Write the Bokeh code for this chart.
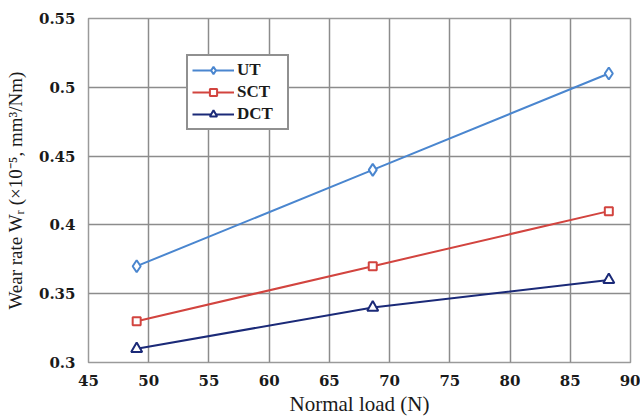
from bokeh.plotting import figure
from bokeh.models import FixedTicker, Legend, LegendItem, Range1d
from bokeh.embed import file_html
from bokeh.resources import INLINE

loads = [49.0, 68.6, 88.2]
ut = [0.37, 0.44, 0.51]
sct = [0.33, 0.37, 0.41]
dct = [0.31, 0.34, 0.36]

x_ticks = [45, 50, 55, 60, 65, 70, 75, 80, 85, 90]
y_ticks = [0.3, 0.35, 0.4, 0.45, 0.5, 0.55]
y_tick_labels = ["0.3", "0.35", "0.4", "0.45", "0.5", "0.55"]

FONT = "'Liberation Serif', 'Times New Roman', serif"
TICK_FONT = "DejaVu Serif"

p = figure(width=640, height=418, output_backend="svg", toolbar_location=None,
           x_range=Range1d(45, 90), y_range=Range1d(0.3, 0.55),
           min_border_left=88, min_border_right=10, min_border_top=18, min_border_bottom=50)
p.outline_line_color = "#9a9a9a"
p.outline_line_width = 1.5
p.background_fill_color = "white"

for ax in (p.xaxis[0], p.yaxis[0]):
    ax.axis_line_color = None
    ax.major_tick_line_color = None
    ax.minor_tick_line_color = None
    ax.major_label_text_font = TICK_FONT
    ax.major_label_text_font_style = "bold"
    ax.major_label_text_font_size = "15px"
    ax.major_label_text_color = "#1a1a1a"
    ax.axis_label_text_font = FONT
    ax.axis_label_text_font_style = "normal"
    ax.axis_label_text_color = "#1a1a1a"

p.xaxis.axis_label_text_font_size = "21px"
p.yaxis.axis_label_text_font_size = "19px"
p.xaxis.major_label_standoff = 6
p.yaxis.major_label_standoff = 7
p.xaxis.ticker = FixedTicker(ticks=x_ticks)
p.yaxis.ticker = FixedTicker(ticks=y_ticks)
p.yaxis.major_label_overrides = {t: l for t, l in zip(y_ticks, y_tick_labels)}
p.xaxis.axis_label = "Normal load (N)"
p.yaxis.axis_label = "Wear rate W\u1d63 (\u00d710\u207b\u2075, mm\u00b3/Nm)"
p.xaxis.axis_label_standoff = 3
p.yaxis.axis_label_standoff = 10

p.grid.grid_line_color = "#8c8c8c"
p.grid.grid_line_width = 1.5

c_ut = "#4a86cf"
c_sct = "#d2443f"
c_dct = "#1b2a78"

l1 = p.line(loads, ut, line_color=c_ut, line_width=2)
m1 = p.scatter(loads, ut, marker="diamond", size=12, line_color=c_ut, fill_color="white", line_width=2)
l2 = p.line(loads, sct, line_color=c_sct, line_width=2)
m2 = p.scatter(loads, sct, marker="square", size=8, line_color=c_sct, fill_color="white", line_width=2)
l3 = p.line(loads, dct, line_color=c_dct, line_width=2)
m3 = p.scatter(loads, dct, marker="triangle", size=11, line_color=c_dct, fill_color="white", line_width=2)

legend = Legend(items=[LegendItem(label="UT", renderers=[l1, m1]),
                       LegendItem(label="SCT", renderers=[l2, m2]),
                       LegendItem(label="DCT", renderers=[l3, m3])],
                location=(98, 232))
legend.label_text_font = FONT
legend.label_text_font_style = "bold"
legend.label_text_font_size = "17px"
legend.label_text_color = "#1a1a1a"
legend.border_line_color = "#222222"
legend.border_line_width = 2
legend.background_fill_color = "white"
legend.background_fill_alpha = 1
legend.glyph_width = 42
legend.glyph_height = 18
legend.label_height = 18
legend.label_width = 46
legend.spacing = 2
legend.padding = 4
legend.margin = 0
legend.label_standoff = 3
p.add_layout(legend, "center")

open("out.html", "w").write(file_html(p, INLINE))
